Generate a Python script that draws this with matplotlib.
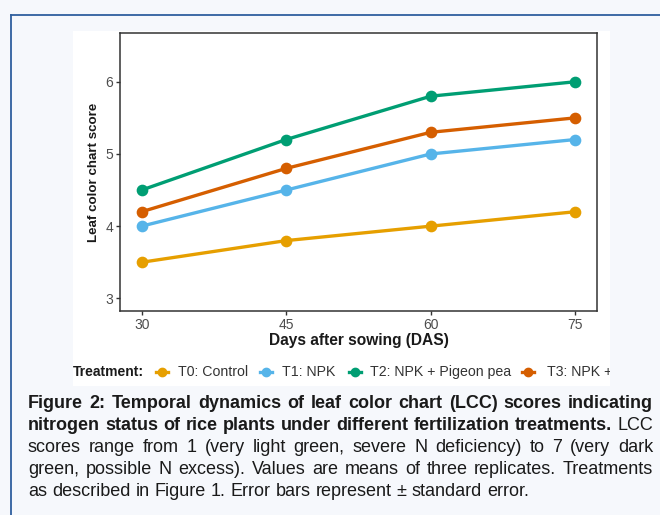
import matplotlib
matplotlib.use("Agg")
import matplotlib.pyplot as plt
from matplotlib import font_manager
from matplotlib.lines import Line2D
from matplotlib.patches import Rectangle

# data
days = [30, 45, 60, 75]
t0_control = [3.5, 3.8, 4.0, 4.2]
t1_npk = [4.0, 4.5, 5.0, 5.2]
t2_pigeon = [4.5, 5.2, 5.8, 6.0]
t3_npk_plus = [4.2, 4.8, 5.3, 5.5]

labels = ["T0: Control", "T1: NPK", "T2: NPK + Pigeon pea", "T3: NPK +"]
colors = ["#E69F00", "#56B4E9", "#009E73", "#D55E00"]
series = [t0_control, t1_npk, t2_pigeon, t3_npk_plus]

caption = [
    [("Figure 2: Temporal dynamics of leaf color chart (LCC) scores indicating", "bold")],
    [("nitrogen status of rice plants under different fertilization treatments.", "bold"), ("LCC", "normal")],
    [("scores range from 1 (very light green, severe N deficiency) to 7 (very dark", "normal")],
    [("green, possible N excess). Values are means of three replicates. Treatments", "normal")],
    [("as described in Figure 1. Error bars represent \u00b1 standard error.", "normal")],
]

names = {f.name for f in font_manager.fontManager.ttflist}
cap_font = "Liberation Sans Narrow" if "Liberation Sans Narrow" in names else "Liberation Sans"
plt.rcParams["font.family"] = ["Liberation Sans", "DejaVu Sans"]

W, H = 660, 515
fig = plt.figure(figsize=(6.6, 5.15), dpi=100, facecolor="#f6f8fc")

def fx(px):
    return px / W

def fy(py):
    return 1 - py / H

# blue frame (top and left edges)
fig.add_artist(Line2D([fx(11), 1], [fy(15), fy(15)], color="#2f5f9e", lw=1.3))
fig.add_artist(Line2D([fx(11), fx(11)], [0, fy(15)], color="#2f5f9e", lw=1.3))

# white image area
fig.add_artist(Rectangle((fx(73), fy(386)), fx(610) - fx(73), fy(31) - fy(386),
                         facecolor="white", edgecolor="none", zorder=0))

ax = fig.add_axes([fx(120), fy(311), fx(597) - fx(120), fy(33) - fy(311)])
ax.set_facecolor("white")
for vals, c in zip(series, colors):
    ax.plot(days, vals, "-o", color=c, lw=2.4, ms=7.4)

ax.set_xlim(27.75, 77.25)
ax.set_ylim(2.825, 6.675)
ax.set_xticks(days)
ax.set_yticks([3, 4, 5, 6])
for s in ax.spines.values():
    s.set_color("#333333")
    s.set_linewidth(1.1)
ax.tick_params(colors="#333333", labelcolor="#4d4d4d", labelsize=10, length=3, width=1, pad=2)
ax.set_xlabel("Days after sowing (DAS)", fontsize=11.2, fontweight="bold", labelpad=1, color="#1a1a1a")
ax.set_ylabel("Leaf color chart score", fontsize=9.6, fontweight="bold", labelpad=4, color="#1a1a1a")

# legend strip, clipped at the right edge of the white area
lax = fig.add_axes([fx(73), fy(386), fx(610) - fx(73), fy(360) - fy(386)])
lax.set_xlim(73, 610)
lax.set_ylim(0, 1)
lax.axis("off")
ly = 0.55
lax.text(73, ly, "Treatment:", fontsize=10, fontweight="bold", va="center", ha="left",
         color="#1a1a1a", clip_on=True)
glyph_x = [162, 266, 355, 528]
text_x = [178, 282, 370, 547]
for gx, tx, lab, c in zip(glyph_x, text_x, labels, colors):
    lax.plot([gx - 6, gx + 6], [ly, ly], color=c, lw=2.4, clip_on=True)
    lax.plot([gx], [ly], "o", color=c, ms=6, clip_on=True)
    lax.text(tx, ly, lab, fontsize=10.2, va="center", ha="left", color="#333333", clip_on=True)

# caption, justified by hand
fig.canvas.draw()
rend = fig.canvas.get_renderer()
left_px, right_px = 28, 653
line_y = [404, 426, 448, 470, 492]

def word_width(word, weight, size):
    t = fig.text(0, 0, word, fontsize=size, fontweight=weight, family=[cap_font, "DejaVu Sans"])
    w = t.get_window_extent(rend).width
    t.remove()
    return w

split_lines = []
for segs in caption:
    words = []
    for text, weight in segs:
        for w in text.split():
            words.append((w, weight))
    split_lines.append(words)

base = 12.0
space = word_width("a b", "normal", base) - word_width("ab", "normal", base)
natural = [sum(word_width(w, wt, base) for w, wt in ws) + space * (len(ws) - 1) for ws in split_lines]
cap_size = base * (right_px - left_px) / max(natural) * 0.99

for i, words in enumerate(split_lines):
    widths = [word_width(w, wt, cap_size) for w, wt in words]
    if i == len(split_lines) - 1:
        gap = word_width("a b", "normal", cap_size) - word_width("ab", "normal", cap_size)
    else:
        gap = (right_px - left_px - sum(widths)) / (len(words) - 1)
    x = left_px
    for (w, wt), ww in zip(words, widths):
        fig.text(fx(x), fy(line_y[i]), w, fontsize=cap_size, fontweight=wt,
                 family=[cap_font, "DejaVu Sans"], va="center", ha="left", color="#1a1a1a")
        x += ww + gap

fig.savefig("out.png", dpi=100, facecolor=fig.get_facecolor())
